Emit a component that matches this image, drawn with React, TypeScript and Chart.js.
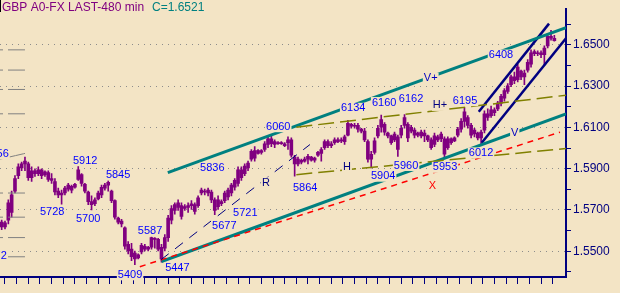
import React, { useEffect, useRef } from "react";
import { Chart, registerables } from "chart.js";

Chart.register(...registerables);

const BG = "#F3E4C5";
const FONT = "'Liberation Sans', Arial, sans-serif";

// ---- price bars (GBP 480 min), bar index 0..166 ----
const opens = [
  1.5641, 1.5618, 1.5651, 1.5688, 1.5791, 1.5866, 1.5904, 1.5923, 1.5923, 1.5857,
  1.5890, 1.5876, 1.5895, 1.5871, 1.5881, 1.5852, 1.5838, 1.5791, 1.5773, 1.5782,
  1.5801, 1.5815, 1.5810, 1.5848, 1.5871, 1.5824, 1.5787, 1.5740, 1.5730, 1.5754,
  1.5773, 1.5806, 1.5820, 1.5791, 1.5745, 1.5660, 1.5646, 1.5613, 1.5533, 1.5510,
  1.5491, 1.5468, 1.5496, 1.5524, 1.5510, 1.5519, 1.5562, 1.5557, 1.5519, 1.5515,
  1.5566, 1.5651, 1.5698, 1.5735, 1.5721, 1.5707, 1.5712, 1.5721, 1.5726, 1.5721,
  1.5782, 1.5791, 1.5796, 1.5787, 1.5749, 1.5716, 1.5740, 1.5745, 1.5763, 1.5782,
  1.5810, 1.5829, 1.5895, 1.5876, 1.5904, 1.5946, 1.5988, 1.5974, 1.5988, 1.5993,
  1.6017, 1.6045, 1.6017, 1.6026, 1.6021, 1.6021, 1.6026, 1.6040, 1.5956, 1.5923,
  1.5941, 1.5937, 1.5946, 1.5956, 1.5941, 1.5965, 1.5974, 1.6002, 1.6031, 1.6012,
  1.6026, 1.6040, 1.6035, 1.6031, 1.6063, 1.6115, 1.6106, 1.6110, 1.6092, 1.6082,
  1.6031, 1.5946, 1.5979, 1.6059, 1.6101, 1.6115, 1.6073, 1.6059, 1.6040, 1.6054,
  1.6063, 1.6110, 1.6115, 1.6082, 1.6087, 1.6063, 1.6077, 1.6059, 1.6059, 1.6040,
  1.6017, 1.6054, 1.6045, 1.6045, 1.6002, 1.6045, 1.6035, 1.6063, 1.6092, 1.6129,
  1.6148, 1.6110, 1.6068, 1.6073, 1.6049, 1.6087, 1.6166, 1.6157, 1.6185, 1.6190,
  1.6218, 1.6242, 1.6274, 1.6307, 1.6345, 1.6331, 1.6373, 1.6345, 1.6378, 1.6406,
  1.6467, 1.6457, 1.6462, 1.6453, 1.6495, 1.6542, 1.6532,
];
const highs = [
  1.5651, 1.5646, 1.5749, 1.5791, 1.5866, 1.5923, 1.5932, 1.5956, 1.5932, 1.5909,
  1.5899, 1.5909, 1.5899, 1.5890, 1.5890, 1.5876, 1.5852, 1.5806, 1.5796, 1.5815,
  1.5829, 1.5820, 1.5829, 1.5912, 1.5876, 1.5829, 1.5791, 1.5768, 1.5759, 1.5791,
  1.5820, 1.5829, 1.5845, 1.5796, 1.5749, 1.5665, 1.5655, 1.5618, 1.5547, 1.5538,
  1.5501, 1.5487, 1.5538, 1.5533, 1.5524, 1.5587, 1.5566, 1.5562, 1.5533, 1.5580,
  1.5674, 1.5721, 1.5735, 1.5749, 1.5735, 1.5726, 1.5735, 1.5745, 1.5735, 1.5768,
  1.5806, 1.5801, 1.5806, 1.5796, 1.5759, 1.5768, 1.5749, 1.5791, 1.5806, 1.5829,
  1.5852, 1.5909, 1.5909, 1.5923, 1.5937, 1.5993, 1.6007, 1.5993, 1.5993, 1.6031,
  1.6054, 1.6060, 1.6040, 1.6031, 1.6031, 1.6026, 1.6054, 1.6049, 1.5965, 1.5956,
  1.5946, 1.5956, 1.5970, 1.5960, 1.5956, 1.5984, 1.6002, 1.6040, 1.6040, 1.6031,
  1.6049, 1.6049, 1.6049, 1.6063, 1.6134, 1.6120, 1.6120, 1.6120, 1.6096, 1.6096,
  1.6040, 1.5984, 1.6049, 1.6110, 1.6160, 1.6124, 1.6077, 1.6063, 1.6077, 1.6063,
  1.6110, 1.6162, 1.6124, 1.6110, 1.6096, 1.6077, 1.6087, 1.6087, 1.6063, 1.6049,
  1.6073, 1.6063, 1.6077, 1.6054, 1.6054, 1.6049, 1.6054, 1.6101, 1.6143, 1.6195,
  1.6157, 1.6120, 1.6096, 1.6077, 1.6087, 1.6181, 1.6190, 1.6204, 1.6195, 1.6227,
  1.6260, 1.6288, 1.6312, 1.6354, 1.6368, 1.6406, 1.6378, 1.6378, 1.6429, 1.6476,
  1.6476, 1.6471, 1.6471, 1.6495, 1.6556, 1.6570, 1.6546,
];
const lows = [
  1.5604, 1.5608, 1.5632, 1.5665, 1.5782, 1.5852, 1.5890, 1.5890, 1.5843, 1.5838,
  1.5862, 1.5866, 1.5852, 1.5862, 1.5838, 1.5829, 1.5773, 1.5759, 1.5728, 1.5773,
  1.5791, 1.5782, 1.5806, 1.5843, 1.5815, 1.5782, 1.5726, 1.5700, 1.5721, 1.5749,
  1.5759, 1.5796, 1.5791, 1.5735, 1.5655, 1.5632, 1.5618, 1.5510, 1.5487, 1.5454,
  1.5435, 1.5463, 1.5487, 1.5501, 1.5501, 1.5510, 1.5515, 1.5501, 1.5447, 1.5501,
  1.5547, 1.5632, 1.5679, 1.5698, 1.5655, 1.5698, 1.5688, 1.5702, 1.5679, 1.5712,
  1.5773, 1.5773, 1.5768, 1.5735, 1.5677, 1.5702, 1.5721, 1.5735, 1.5749, 1.5768,
  1.5796, 1.5815, 1.5843, 1.5866, 1.5890, 1.5937, 1.5937, 1.5970, 1.5970, 1.5984,
  1.6002, 1.6007, 1.6002, 1.6017, 1.6017, 1.6007, 1.5993, 1.5956, 1.5864, 1.5913,
  1.5923, 1.5932, 1.5923, 1.5937, 1.5932, 1.5960, 1.5937, 1.5993, 1.6002, 1.6002,
  1.6017, 1.6026, 1.6026, 1.6017, 1.6059, 1.6096, 1.6096, 1.6077, 1.6073, 1.6031,
  1.5932, 1.5904, 1.5970, 1.6049, 1.6077, 1.6063, 1.6049, 1.6017, 1.6031, 1.5960,
  1.6049, 1.6096, 1.6031, 1.6073, 1.6049, 1.6054, 1.6049, 1.6031, 1.6031, 1.5993,
  1.6007, 1.6031, 1.6031, 1.5953, 1.5993, 1.6017, 1.6031, 1.6054, 1.6077, 1.6101,
  1.6096, 1.6049, 1.6054, 1.6040, 1.6012, 1.6073, 1.6134, 1.6148, 1.6157, 1.6181,
  1.6204, 1.6227, 1.6265, 1.6298, 1.6312, 1.6321, 1.6331, 1.6307, 1.6368, 1.6392,
  1.6448, 1.6448, 1.6438, 1.6401, 1.6485, 1.6523, 1.6518,
];
const closes = [
  1.5618, 1.5637, 1.5735, 1.5773, 1.5852, 1.5909, 1.5923, 1.5937, 1.5857, 1.5890,
  1.5876, 1.5895, 1.5866, 1.5885, 1.5848, 1.5843, 1.5787, 1.5773, 1.5782, 1.5806,
  1.5820, 1.5796, 1.5824, 1.5895, 1.5829, 1.5791, 1.5740, 1.5726, 1.5749, 1.5782,
  1.5810, 1.5820, 1.5834, 1.5745, 1.5665, 1.5641, 1.5632, 1.5524, 1.5501, 1.5473,
  1.5463, 1.5482, 1.5529, 1.5510, 1.5519, 1.5566, 1.5557, 1.5510, 1.5463, 1.5566,
  1.5660, 1.5707, 1.5726, 1.5712, 1.5669, 1.5716, 1.5721, 1.5730, 1.5693, 1.5759,
  1.5796, 1.5787, 1.5782, 1.5749, 1.5698, 1.5749, 1.5730, 1.5782, 1.5796, 1.5820,
  1.5843, 1.5895, 1.5857, 1.5913, 1.5927, 1.5984, 1.5951, 1.5988, 1.5979, 1.6021,
  1.6045, 1.6021, 1.6031, 1.6021, 1.6026, 1.6012, 1.6040, 1.5965, 1.5923, 1.5946,
  1.5932, 1.5946, 1.5960, 1.5941, 1.5951, 1.5979, 1.5993, 1.6031, 1.6012, 1.6021,
  1.6040, 1.6031, 1.6040, 1.6054, 1.6120, 1.6106, 1.6110, 1.6092, 1.6082, 1.6040,
  1.5946, 1.5970, 1.6035, 1.6096, 1.6138, 1.6077, 1.6059, 1.6026, 1.6068, 1.5993,
  1.6096, 1.6148, 1.6049, 1.6101, 1.6063, 1.6073, 1.6059, 1.6073, 1.6040, 1.6002,
  1.6059, 1.6040, 1.6068, 1.5970, 1.6045, 1.6026, 1.6049, 1.6092, 1.6129, 1.6176,
  1.6110, 1.6063, 1.6087, 1.6049, 1.6077, 1.6166, 1.6148, 1.6185, 1.6171, 1.6218,
  1.6251, 1.6279, 1.6302, 1.6345, 1.6326, 1.6392, 1.6345, 1.6363, 1.6415, 1.6462,
  1.6457, 1.6462, 1.6453, 1.6485, 1.6542, 1.6532, 1.6521,
];

// ---- axes ----
const yTickValues = [1.54, 1.55, 1.56, 1.57, 1.58, 1.59, 1.6, 1.61, 1.62, 1.63, 1.64, 1.65, 1.66];
const yLabelValues = [1.55, 1.57, 1.59, 1.61, 1.63, 1.65];
const xTickValues = [
  1, 4.5, 8, 11.5, 15, 18.5, 22, 25.5, 29, 32.5, 36, 39.5, 43, 46.5, 50, 53.5,
  57, 60.5, 64, 67.5, 71, 74.5, 78, 81.5, 85, 88.5, 92, 95.5, 99, 102.5, 106, 109.5,
  113, 116.5, 120, 123.5, 127, 130.5, 134, 137.5, 141, 144.5, 148, 151.5, 155, 158.5, 162, 165.5,
];

// ---- trend lines: [bar index, price] end points ----
const vPlusLine = [[49.9, 1.5881], [169.5, 1.6584]];
const vLine = [[48, 1.545], [169.5, 1.6166]];
const xLine = [[41.5, 1.5425], [167.7, 1.6077]];
const hPlusLine = [[88.5, 1.6101], [169.5, 1.6256]];
const hLine = [[88.5, 1.5871], [169.5, 1.5998]];
const rLine = [[47.8, 1.5458], [92.6, 1.6017]];
const channelUpper = [[143.3, 1.6176], [164.4, 1.6603]];
const channelLower = [[144.2, 1.6026], [169.5, 1.6532]];
const fanLevels = [1.6476, 1.6378, 1.6284, 1.6166, 1.5782, 1.5665, 1.5566, 1.5473];
const fanDiagonal = [[-0.5, 1.5946], [7, 1.5974]];

// ---- annotations ----
const labelTexts = [
  "6060", "6134", "6160", "6162", "H+", "6195", "V+", "6408", "V", "6012",
  "5960", "5953", "5904", "H", "X", "5864", "R", "5836", "5721", "5677",
  "5587", "5447", "5409", "5845", "5700", "5728", "5912", "5956", "5472",
];
const labelBars = [
  79.4, 101.9, 111.2, 119.3, 129.5, 135.5, 126.8, 146.3, 153, 140.3,
  117.8, 129.5, 110.9, 102.5, 128.3, 87.5, 78.2, 59.6, 69.5, 63.2,
  40.9, 49.1, 34.9, 31.3, 22.3, 11.5, 21.4, -5.2, -5.8,
];
const labelPrices = [
  1.6106, 1.6195, 1.6223, 1.6242, 1.6209, 1.6232, 1.634, 1.6453, 1.6077, 1.5979,
  1.5918, 1.5909, 1.5866, 1.5909, 1.582, 1.581, 1.5834, 1.5904, 1.5688, 1.5627,
  1.5599, 1.5421, 1.5388, 1.5871, 1.566, 1.5693, 1.5941, 1.5974, 1.5477,
];
const titleText = "GBP A0-FX LAST-480 min";
const lastText = "C=1.6521";

function labelColor(t: string) {
  if (t === "X") return "#FF0000";
  if (t === "H" || t === "H+" || t === "R") return "#000080";
  if (t === "V" || t === "V+") return "#0000C0";
  return "#0000FF";
}

const isLabelTick = (v: number) => yLabelValues.some((l) => Math.abs(l - v) < 1e-6);

function seg(pts: number[][], color: string, width: number, dash: number[] = []) {
  return {
    type: "line" as const,
    data: pts.map(([x, y]) => ({ x, y })),
    borderColor: color,
    borderWidth: width,
    borderDash: dash,
    pointRadius: 0,
    fill: false,
    tension: 0,
    order: 1,
  };
}

const overlayPlugin = {
  id: "overlay",
  beforeDraw(chart: any) {
    const { ctx, width, height } = chart;
    ctx.save();
    ctx.fillStyle = BG;
    ctx.fillRect(0, 0, width, height);
    ctx.restore();
  },
  afterDatasetsDraw(chart: any) {
    const { ctx } = chart;
    const x = chart.scales.x;
    const y = chart.scales.y;
    ctx.save();
    ctx.font = `11px ${FONT}`;
    ctx.textBaseline = "middle";
    ctx.textAlign = "left";
    labelTexts.forEach((t, i) => {
      const px = x.getPixelForValue(labelBars[i]);
      const py = y.getPixelForValue(labelPrices[i]);
      const w = ctx.measureText(t).width;
      ctx.fillStyle = BG;
      ctx.fillRect(px - 1, py - 5, w + 2, 11);
      ctx.fillStyle = labelColor(t);
      ctx.fillText(t, px, py + 0.5);
    });
    ctx.restore();
  },
  afterDraw(chart: any) {
    const { ctx } = chart;
    ctx.save();
    ctx.font = `12px ${FONT}`;
    ctx.textBaseline = "alphabetic";
    ctx.textAlign = "left";
    ctx.fillStyle = "#800080";
    ctx.fillText(titleText, 2, 11);
    ctx.fillStyle = "#008080";
    ctx.fillText(lastText, 152, 11);
    ctx.fillStyle = "#000000";
    ctx.fillRect(0, 0, 1, 12);
    ctx.restore();
  },
};

export default function App() {
  const ref = useRef<HTMLCanvasElement>(null);
  useEffect(() => {
    document.body.style.margin = "0";
    document.body.style.background = BG;
    const wicks = highs.map((h, i) => ({ x: i, y: [lows[i], h] }));
    const bodies = opens.map((o, i) => ({ x: i, y: [Math.min(o, closes[i]), Math.max(o, closes[i])] }));
    const fanSets = fanLevels.map((lv) =>
      seg([[-0.5, lv], [7, lv]], "#808080", 1, [3, 5, 17, 100])
    );
    const chart = new Chart(ref.current as HTMLCanvasElement, {
      type: "bar",
      data: {
        datasets: [
          ...fanSets,
          seg(fanDiagonal, "#808080", 1, [8, 0]),
          seg(rLine, "#000080", 1, [10, 8]),
          seg(xLine, "#FF0000", 1.5, [6, 5]),
          seg(hPlusLine, "#808000", 1.5, [16, 6]),
          seg(hLine, "#808000", 1.5, [16, 6]),
          seg(vPlusLine, "#008080", 3),
          seg(vLine, "#008080", 3),
          seg(channelUpper, "#000080", 2.5),
          seg(channelLower, "#000080", 2.5),
          {
            type: "bar" as const,
            data: bodies as any,
            backgroundColor: "#800080",
            borderWidth: 0,
            barThickness: 3,
            grouped: false,
            order: 5,
          },
          {
            type: "bar" as const,
            data: wicks as any,
            backgroundColor: "#800080",
            borderWidth: 0,
            barThickness: 1,
            grouped: false,
            order: 6,
          },
        ] as any,
      },
      options: {
        responsive: false,
        animation: false,
        devicePixelRatio: 1,
        layout: { padding: 0, autoPadding: false },
        plugins: { legend: { display: false }, tooltip: { enabled: false }, title: { display: false } },
        scales: {
          x: {
            type: "linear",
            min: -0.5,
            max: 169.5,
            offset: false,
            z: 1,
            afterBuildTicks: (s: any) => {
              s.ticks = xTickValues.map((v) => ({ value: v }));
            },
            afterFit: (s: any) => {
              s.height = 16;
            },
            ticks: { display: false },
            grid: {
              display: true,
              drawOnChartArea: false,
              drawTicks: true,
              tickLength: 7,
              tickColor: "#000080",
              tickWidth: 1,
              offset: false,
            },
            border: { display: true, color: "#000080", width: 2 },
          },
          y: {
            type: "linear",
            position: "right",
            min: 1.5375,
            max: 1.6673,
            afterBuildTicks: (s: any) => {
              s.ticks = yTickValues.map((v) => ({ value: v }));
            },
            afterFit: (s: any) => {
              s.width = 54;
            },
            ticks: {
              color: "#000080",
              font: { family: FONT, size: 12 },
              padding: 2,
              callback: (v: any) => (isLabelTick(Number(v)) ? Number(v).toFixed(4) : ""),
            },
            grid: {
              color: (c: any) => (c.tick && isLabelTick(c.tick.value) ? "#8C8C8C" : "rgba(0,0,0,0)"),
              tickColor: "#000080",
              tickLength: 5,
              drawTicks: true,
              lineWidth: 1,
            },
            border: { display: true, color: "#000080", width: 2, dash: [1, 5] },
          },
        },
      } as any,
      plugins: [overlayPlugin],
    });
    return () => chart.destroy();
  }, []);
  return (
    <canvas
      ref={ref}
      width={620}
      height={293}
      style={{ display: "block", width: 620, height: 293 }}
    />
  );
}
